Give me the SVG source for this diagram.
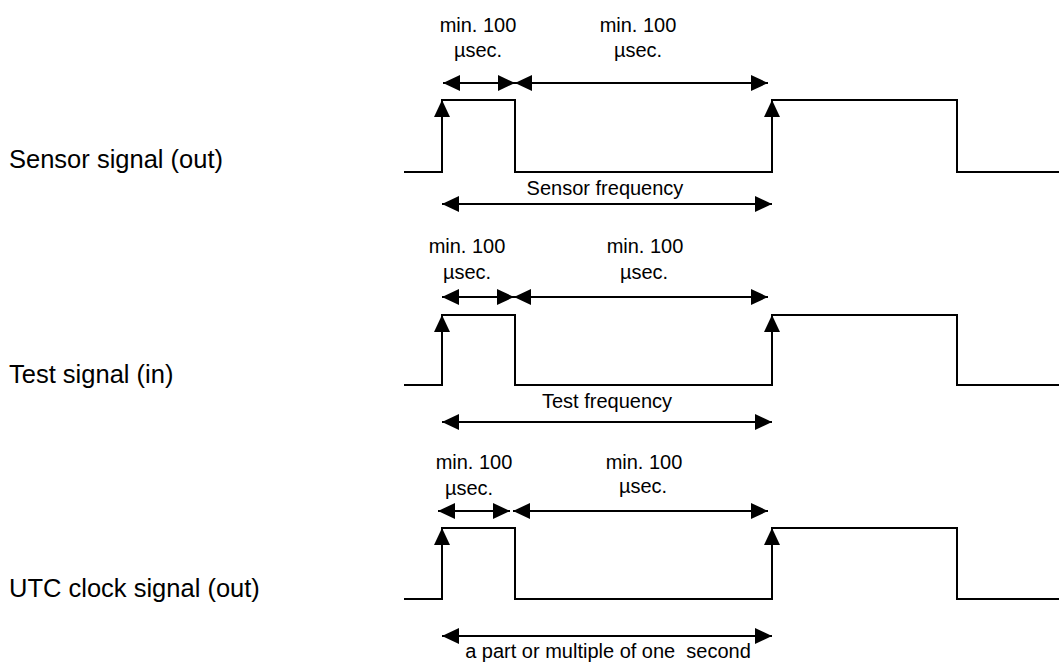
<svg xmlns="http://www.w3.org/2000/svg" width="1059" height="671" viewBox="0 0 1059 671">
<style>
.sig{fill:none;stroke:#000;stroke-width:2}
.dim{fill:none;stroke:#000;stroke-width:2;marker-start:url(#ah);marker-end:url(#ah)}
.up{fill:none;stroke:#000;stroke-width:2;marker-end:url(#ah)}
.lbl{font-family:"Liberation Sans",Arial,sans-serif;font-size:25.5px;fill:#000}
.sm{font-family:"Liberation Sans",Arial,sans-serif;font-size:20px;fill:#000;text-anchor:middle}
</style>
<defs>
<marker id="ah" viewBox="0 0 17 16" refX="17" refY="8" markerWidth="17" markerHeight="16" markerUnits="userSpaceOnUse" orient="auto-start-reverse">
<path d="M0,0 L17,8 L0,16 z" fill="#000"/>
</marker>
</defs>
<rect width="1059" height="671" fill="#fff"/>

<g id="sensor">
<text class="lbl" x="9" y="168">Sensor signal (out)</text>
<polyline class="sig" points="404,172 442,172 442,100 515,100 515,172 772,172 772,100 957,100 957,172 1059,172"/>
<path class="up" d="M442,120 L442,100"/>
<path class="up" d="M772,120 L772,100"/>
<text class="sm" x="478" y="32">min. 100</text>
<text class="sm" x="478" y="57">µsec.</text>
<text class="sm" x="638" y="32">min. 100</text>
<text class="sm" x="638" y="57">µsec.</text>
<text class="sm" x="605" y="195">Sensor frequency</text>
</g>

<g id="test">
<text class="lbl" x="9" y="383">Test signal (in)</text>
<polyline class="sig" points="404,385 442,385 442,315 515,315 515,385 772,385 772,315 957,315 957,385 1059,385"/>
<path class="up" d="M442,335 L442,315"/>
<path class="up" d="M772,335 L772,315"/>
<text class="sm" x="467" y="253">min. 100</text>
<text class="sm" x="467" y="279">µsec.</text>
<text class="sm" x="645" y="253">min. 100</text>
<text class="sm" x="644" y="279">µsec.</text>
<text class="sm" x="607" y="408">Test frequency</text>
</g>

<g id="utc">
<text class="lbl" x="9" y="597">UTC clock signal (out)</text>
<polyline class="sig" points="404,599 442,599 442,528 515,528 515,599 772,599 772,528 957,528 957,599 1059,599"/>
<path class="up" d="M442,548 L442,528"/>
<path class="up" d="M772,548 L772,528"/>
<text class="sm" x="474" y="469">min. 100</text>
<text class="sm" x="469" y="495">µsec.</text>
<text class="sm" x="644" y="469">min. 100</text>
<text class="sm" x="643" y="493">µsec.</text>
<text class="sm" x="608" y="658" xml:space="preserve">a part or multiple of one  second</text>
</g>

<g id="connectors">
<line class="dim" x1="443" y1="83" x2="515" y2="83"/>
<line class="dim" x1="515" y1="83" x2="768" y2="83"/>
<line class="dim" x1="442" y1="204" x2="772" y2="204"/>
<line class="dim" x1="442" y1="297" x2="514" y2="297"/>
<line class="dim" x1="514" y1="297" x2="768" y2="297"/>
<line class="dim" x1="442" y1="422" x2="772" y2="422"/>
<line class="dim" x1="438" y1="511" x2="510" y2="511"/>
<line class="dim" x1="513" y1="511" x2="768" y2="511"/>
<line class="dim" x1="442" y1="636" x2="772" y2="636"/>
</g>
</svg>
